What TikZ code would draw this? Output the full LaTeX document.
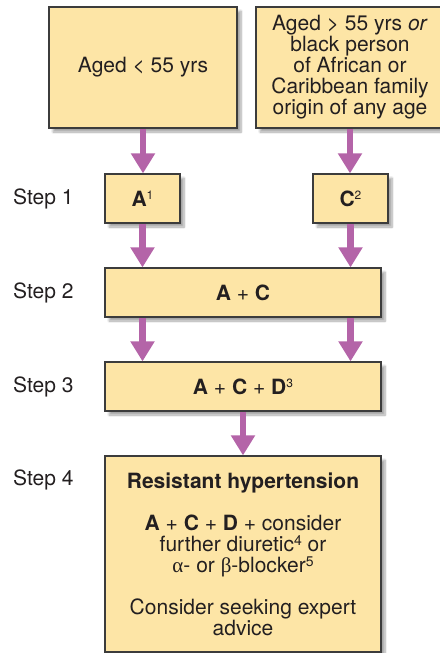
\documentclass[tikz,border=0pt]{standalone}
\usepackage{fontspec}
\setmainfont{TeX Gyre Heros}
\newfontfamily\grk{Liberation Serif}
\usetikzlibrary{arrows.meta,shadows.blur}
\definecolor{boxfill}{RGB}{253,229,166}
\definecolor{boxline}{RGB}{60,60,60}
\definecolor{arrcol}{RGB}{180,100,168}
\definecolor{txt}{RGB}{35,31,32}
\newcommand\supsm[1]{\raisebox{6.5pt}{\fontsize{12pt}{12pt}\selectfont #1}}
\newcommand\supbg[1]{\raisebox{6pt}{\fontsize{14pt}{14pt}\selectfont #1}}
\begin{document}
\begin{tikzpicture}[x=1pt,y=-1pt,
 box/.style={draw=boxline, line width=1.2pt, fill=boxfill, inner sep=0pt, align=center, text=txt,
   blur shadow={shadow xshift=4pt, shadow yshift=-4pt, shadow blur steps=8, shadow opacity=35}},
 lab/.style={anchor=west, inner sep=0pt, text=txt},
 arr/.style={draw=arrcol, line width=6.5pt, shorten <=0.6pt, -{Triangle[width=23pt,length=20pt]}},
 font=\fontsize{21pt}{21pt}\selectfont]
\useasboundingbox (0,0) rectangle (439,653);
\node[box, minimum width=188pt, minimum height=121pt] (b1) at (143,67.5) {Aged < 55 yrs};
\node[box, minimum width=188pt, minimum height=121pt] (b2) at (350,67.5)
  {Aged > 55 yrs \emph{or}\\black person\\of African or\\Caribbean family\\origin of any age};
\node[box, minimum width=75pt, minimum height=49pt] (a) at (142.5,198.5) {\textbf{A}\supsm{1}};
\node[box, minimum width=75pt, minimum height=49pt] (c) at (350.5,198.5) {\textbf{C}\supsm{2}};
\node[box, minimum width=276pt, minimum height=49pt] (s2) at (243,292.5) {\textbf{A} + \textbf{C}};
\node[box, minimum width=276pt, minimum height=49pt] (s3) at (243,386.5) {\textbf{A} + \textbf{C} + \textbf{D}\supsm{3}};
\node[box, minimum width=276pt, minimum height=196pt] (s4) at (243,554)
  {\textbf{Resistant hypertension}\\[21pt]
   \textbf{A} + \textbf{C} + \textbf{D} + consider\\
   further diuretic\supbg{4} or\\
   {\grk α}- or {\grk β}-blocker\supbg{5}\\[21pt]
   Consider seeking expert\\
   advice};
\node[lab] (l1) at (13,198.5) {Step 1};
\node[lab] (l2) at (13,292.5) {Step 2};
\node[lab] (l3) at (13,386.5) {Step 3};
\node[lab] (l4) at (13,480) {Step 4};
\draw[arr] (b1.south) -- (b1.south |- a.north);
\draw[arr] (b2.south) -- (b2.south |- c.north);
\draw[arr] (a.south) -- (a.south |- s2.north);
\draw[arr] (c.south) -- (c.south |- s2.north);
\draw[arr] (s2.south -| a) -- (a |- s3.north);
\draw[arr] (s2.south -| c) -- (c |- s3.north);
\draw[arr] (s3.south) -- (s4.north);
\end{tikzpicture}
\end{document}
